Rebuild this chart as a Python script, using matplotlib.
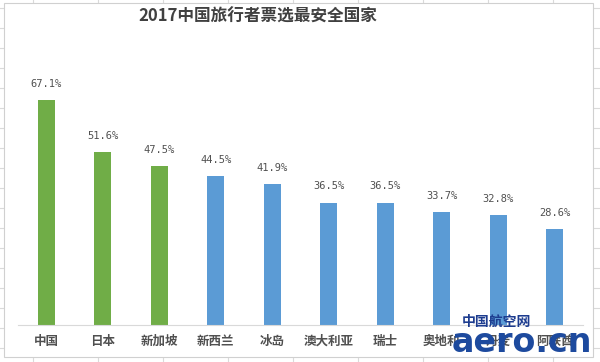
import matplotlib.pyplot as plt
from matplotlib.patches import Rectangle

plt.rcParams['font.family'] = ['Noto Sans CJK SC', 'DejaVu Sans']

countries = ["中国", "日本", "新加坡", "新西兰", "冰岛", "澳大利亚", "瑞士", "奥地利", "丹麦", "阿联酋"]
votes = [67.1, 51.6, 47.5, 44.5, 41.9, 36.5, 36.5, 33.7, 32.8, 28.6]
bar_colors = ["#70AD47"] * 3 + ["#5B9BD5"] * 7
title = "2017中国旅行者票选最安全国家"

W, H = 600, 362
fig = plt.figure(figsize=(6, 3.62), dpi=100)

# spreadsheet cells behind the chart
bg = fig.add_axes([0, 0, 1, 1])
bg.set_xlim(0, W)
bg.set_ylim(H, 0)
bg.axis("off")
for x in range(33, W, 65):
    bg.axvline(x, color="#dadada", lw=0.8, zorder=1)
for y in range(8, H, 20):
    bg.axhline(y, color="#dadada", lw=0.8, zorder=1)
bg.add_patch(Rectangle((4, 3), 589, 354, facecolor="white", edgecolor="#d0d0d0",
                       lw=0.8, zorder=3))

# main chart
ax = fig.add_axes([18 / W, 1 - 325 / H, (583 - 18) / W, 251.5 / H])
ax.patch.set_alpha(0)
x = range(len(countries))
bars = ax.bar(x, votes, width=0.3, color=bar_colors)
ax.set_xlim(-0.5, 9.5)
ax.set_ylim(0, 75)
for b, v in zip(bars, votes):
    ax.annotate(f"{v:.1f}%", (b.get_x() + b.get_width() / 2, v), xytext=(0, 8),
                textcoords="offset points", ha="center", va="bottom",
                fontsize=7.5, color="#505050", family="DejaVu Sans Mono")
ax.set_xticks(list(x))
ax.set_xticklabels(countries, fontsize=9, fontweight="bold", color="#505050")
ax.tick_params(axis="x", length=0, pad=7)
ax.set_yticks([])
for s in ["top", "right", "left"]:
    ax.spines[s].set_visible(False)
ax.spines["bottom"].set_color("#d9d9d9")

fig.text(258 / W, 1 - 17 / H, title, ha="center", va="center", fontsize=12,
         fontweight="bold", color="#404040")

# site watermark
fig.text(496 / W, 1 - 322 / H, "中国航空网", ha="center", va="center", fontsize=10,
         fontweight="bold", color="#1d3c8f")
fig.text(522 / W, 1 - 342 / H, "aero.cn", ha="center", va="center", fontsize=24,
         fontweight="bold", color="#1d4a9e", family="DejaVu Sans")

fig.savefig("out.png", dpi=100)
